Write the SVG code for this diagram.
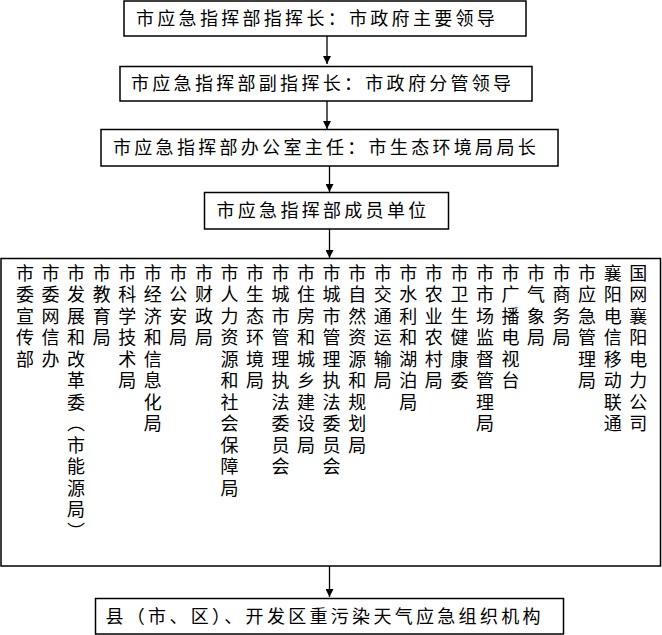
<svg xmlns="http://www.w3.org/2000/svg" width="662" height="635" viewBox="0 0 662 635">
<style>
.box{fill:#fff;stroke:#000;stroke-width:1.5}
.t{font-family:"Noto Sans CJK SC","Noto Sans CJK JP",sans-serif;font-size:18px;fill:#000;letter-spacing:3.3px}
.v{font-family:"Noto Sans CJK SC","Noto Sans CJK JP",sans-serif;font-size:18px;fill:#000;writing-mode:vertical-rl;letter-spacing:3.5px}
.c{stroke:#000;stroke-width:1.3;fill:none}
</style>
<defs>
<marker id="ah" markerWidth="8" markerHeight="8" refX="8" refY="4" orient="auto" markerUnits="userSpaceOnUse">
<path d="M0,0 L8,4 L0,8 Z" fill="#000"/>
</marker>
</defs>
<rect width="662" height="635" fill="#fff"/>
<g id="connectors">
<line class="c" x1="327" y1="36" x2="327" y2="64" marker-end="url(#ah)"/>
<line class="c" x1="327" y1="101" x2="327" y2="129" marker-end="url(#ah)"/>
<line class="c" x1="329.5" y1="166" x2="329.5" y2="192" marker-end="url(#ah)"/>
<line class="c" x1="329.5" y1="229" x2="329.5" y2="258" marker-end="url(#ah)"/>
<line class="c" x1="329.5" y1="566" x2="329.5" y2="597" marker-end="url(#ah)"/>
</g>
<g id="n1">
<rect class="box" x="124" y="1" width="402" height="35"/>
<text class="t" x="136" y="25">市应急指挥部指挥长：市政府主要领导</text>
</g>
<g id="n2">
<rect class="box" x="120" y="66.5" width="412" height="34.5"/>
<text class="t" x="131" y="90">市应急指挥部副指挥长：市政府分管领导</text>
</g>
<g id="n3">
<rect class="box" x="101" y="129.5" width="457" height="36.5"/>
<text class="t" x="113" y="154">市应急指挥部办公室主任：市生态环境局局长</text>
</g>
<g id="n4">
<rect class="box" x="204.5" y="192.5" width="244" height="36.5"/>
<text class="t" x="216.5" y="217">市应急指挥部成员单位</text>
</g>
<g id="n5">
<rect class="box" x="1" y="258.5" width="659.5" height="307.5"/>
<text class="v" x="25" y="264">市委宣传部</text>
<text class="v" x="50.5" y="264">市委网信办</text>
<text class="v" x="76.1" y="264">市发展和改革委（市能源局）</text>
<text class="v" x="101.7" y="264">市教育局</text>
<text class="v" x="127.2" y="264">市科学技术局</text>
<text class="v" x="152.8" y="264">市经济和信息化局</text>
<text class="v" x="178.3" y="264">市公安局</text>
<text class="v" x="203.9" y="264">市财政局</text>
<text class="v" x="229.4" y="264">市人力资源和社会保障局</text>
<text class="v" x="255" y="264">市生态环境局</text>
<text class="v" x="280.5" y="264">市城市管理执法委员会</text>
<text class="v" x="306.1" y="264">市住房和城乡建设局</text>
<text class="v" x="331.6" y="264">市城市管理执法委员会</text>
<text class="v" x="357.2" y="264">市自然资源和规划局</text>
<text class="v" x="382.7" y="264">市交通运输局</text>
<text class="v" x="408.3" y="264">市水利和湖泊局</text>
<text class="v" x="433.8" y="264">市农业农村局</text>
<text class="v" x="459.4" y="264">市卫生健康委</text>
<text class="v" x="484.9" y="264">市市场监督管理局</text>
<text class="v" x="510.5" y="264">市广播电视台</text>
<text class="v" x="536" y="264">市气象局</text>
<text class="v" x="561.6" y="264">市商务局</text>
<text class="v" x="587.1" y="264">市应急管理局</text>
<text class="v" x="612.7" y="264">襄阳电信移动联通</text>
<text class="v" x="638.2" y="264">国网襄阳电力公司</text>
</g>
<g id="n6">
<rect class="box" x="95.5" y="598.5" width="468" height="35.5"/>
<text class="t" x="105.5" y="623">县（市、区）、开发区重污染天气应急组织机构</text>
</g>
</svg>
